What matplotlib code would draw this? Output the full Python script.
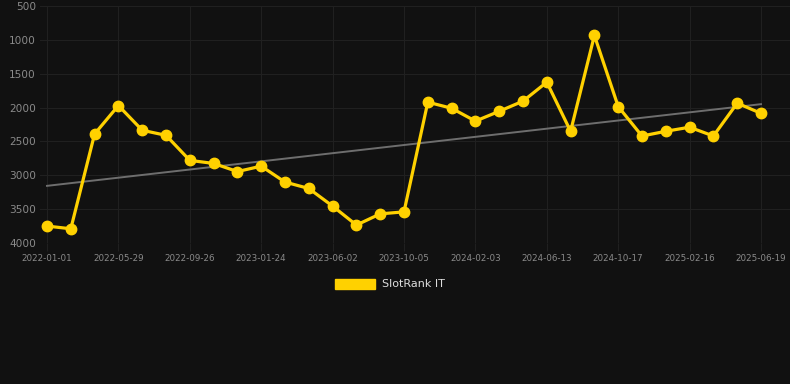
import numpy as np
import matplotlib
matplotlib.use("Agg")
from matplotlib import pyplot as plt
from matplotlib.patches import Patch

# every third point is labelled on the category axis
tick_labels = ["2022-01-01", "2022-05-29", "2022-09-26", "2023-01-24", "2023-06-02",
               "2023-10-05", "2024-02-03", "2024-06-13", "2024-10-17", "2025-02-16",
               "2025-06-19"]
rank = [3750, 3790, 2390, 1970, 2335, 2410, 2780, 2825, 2945, 2865,
        3100, 3195, 3455, 3735, 3570, 3540, 1920, 2010, 2200, 2055,
        1905, 1625, 2350, 935, 1985, 2420, 2350, 2290, 2420, 1935,
        2085]
series_name = "SlotRank IT"

BG = "#111111"
YELLOW = "#FFD100"
GRID = "#202020"
TEXT = "#8a8a8a"

x = np.arange(len(rank))
y = np.array(rank, dtype=float)
k, b = np.polyfit(x, y, 1)

fig = plt.figure(figsize=(7.9, 3.84), dpi=100, facecolor=BG)
ax = fig.add_axes([40 / 790, (384 - 243) / 384, 750 / 790, 237 / 384], facecolor=BG)

ax.plot(x, k * x + b, color="#6e6e6e", lw=1.4, zorder=2)
ax.plot(x, y, color=YELLOW, lw=2.3, marker="o", ms=7.5, zorder=3)

ax.set_ylim(4000, 500)
ax.set_yticks(np.arange(500, 4001, 500))
ax.set_xlim(-7 / 23.8, 30 + 29 / 23.8)
ax.set_xticks(x[::3])
ax.set_xticklabels(tick_labels)

ax.grid(True, color=GRID, lw=0.8)
for s in ax.spines.values():
    s.set_visible(False)
ax.tick_params(axis="y", length=0, pad=3, labelsize=7.6, labelcolor=TEXT)
ax.tick_params(axis="x", length=6, color=GRID, pad=2, labelsize=6.3, labelcolor=TEXT)

fig.legend(handles=[Patch(facecolor=YELLOW, edgecolor=YELLOW, label=series_name)],
           loc="center", bbox_to_anchor=(390 / 790, 1 - 284 / 384),
           frameon=False, handlelength=3.6, handleheight=1.0, handletextpad=0.6,
           fontsize=8, labelcolor="#dddddd")

fig.savefig("out.png", dpi=100, facecolor=BG)
